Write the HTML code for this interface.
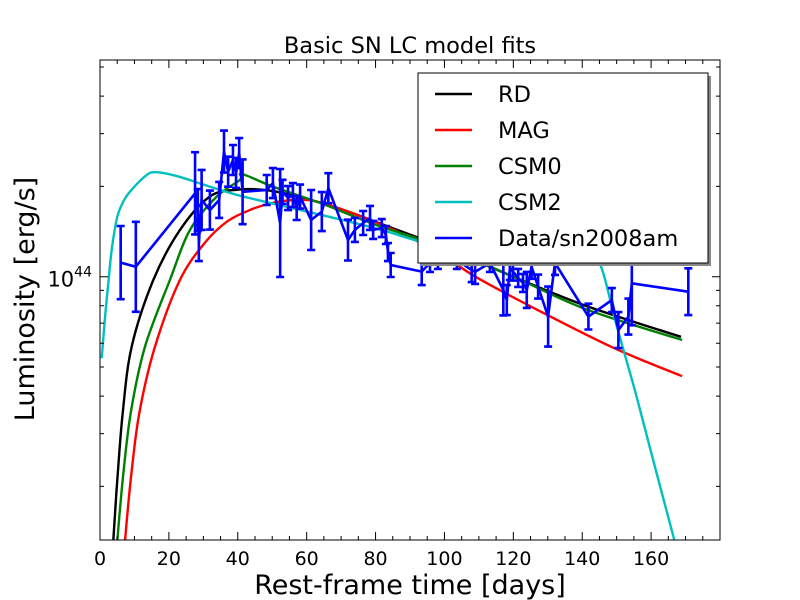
<!DOCTYPE html>
<html><head><meta charset="utf-8">
<style>
html,body{margin:0;padding:0;background:#fff;}
svg{display:block;font-family:"DejaVu Sans","Liberation Sans",sans-serif;}
</style></head>
<body>
<svg id="chart" width="800" height="600" viewBox="0 0 800 600" xmlns="http://www.w3.org/2000/svg">
<rect width="800" height="600" fill="#fff"/>
<text x="410" y="53" font-size="22.5" text-anchor="middle">Basic SN LC model fits</text>
<text x="410" y="594" font-size="27" text-anchor="middle">Rest-frame time [days]</text>
<text transform="translate(34,299) rotate(-90)" font-size="27" text-anchor="middle">Luminosity [erg/s]</text>
<defs><clipPath id="plotclip"><rect x="100" y="60" width="620" height="480"/></clipPath></defs>
<g id="curves" clip-path="url(#plotclip)"></g>
<g id="axes"></g>
<g id="legend">
<rect x="421" y="76" width="290" height="190" fill="#888"/>
<rect x="418" y="73" width="290" height="190" fill="#fff" stroke="#000" stroke-width="1"/>
</g>
</svg>
<script>
// ---- data ----
const xTicks=[0,20,40,60,80,100,120,140,160];
const rdT=[3.86,5.02,6.59,9.2,15.48,23.2,31.9,40,47,55,70,85,100,120,141,168.7];
const rdL=[0.132,0.21,0.351,0.585,0.975,1.43,1.85,1.95,1.95,1.88,1.68,1.45,1.25,1.0,0.80,0.63];
const magT=[7.26,8.91,11.41,15.97,23.2,30.5,37,43.6,50,56,62,70,80,90,100,109,125.6,149,169];
const magL=[0.132,0.21,0.351,0.585,0.975,1.3,1.53,1.67,1.76,1.8,1.79,1.68,1.52,1.35,1.17,1.0,0.79,0.58,0.466];
const csm0T=[5.02,6.59,8.91,13.07,20.3,26.1,33.9,40.6,41.2,50,64,80,100,120,141,169];
const csm0L=[0.132,0.21,0.351,0.585,0.975,1.43,1.85,2.1,2.2,2.0,1.76,1.49,1.25,1.0,0.78,0.615];
const csm2T=[0.5,1.45,2.4,3.4,5,7,9.2,13.5,16.2,22,30,40,60,80,100,120,130,140,145,150,155,160,166.7];
const csm2L=[0.535,0.73,0.95,1.23,1.58,1.8,1.95,2.18,2.23,2.17,2.03,1.87,1.65,1.45,1.25,1.2,1.17,1.14,1.11,0.685,0.43,0.26,0.133];
const dataT=[6.0,10.4,27.6,28.4,28.7,29.5,31.9,34.6,36.0,37.2,38.6,39.5,40.4,41.4,48.4,50.2,52.3,53.0,54.6,56.0,57.1,58.1,61.3,64.4,66.3,72.0,74.0,76.4,78.4,79.3,81.8,83.0,83.6,84.4,93.4,95.8,98.1,103.6,107.9,108.9,113.2,117.1,118.1,119.0,119.9,121.4,122.8,123.9,125.3,127.2,130.1,132.1,141.8,148.6,150.5,153.4,154.4,170.8];
const dataLogL=[44.047,44.033,44.278,44.222,44.112,44.256,44.222,44.256,44.417,44.35,44.389,44.346,44.412,44.283,44.289,44.312,44.179,44.283,44.262,44.272,44.229,44.267,44.189,44.217,44.295,44.122,44.156,44.179,44.196,44.156,44.162,44.139,44.082,44.039,44.017,44.046,44.056,44.056,44.022,44.016,44.046,43.956,43.922,44.029,44.017,43.996,43.979,43.956,44.033,43.967,43.867,44.046,43.867,43.922,43.822,43.867,43.978,43.95];
const dataErr=[0.122,0.15,0.137,0.07,0.06,0.1,0.065,0.06,0.07,0.05,0.05,0.05,0.05,0.108,0.05,0.05,0.18,0.04,0.04,0.04,0.04,0.04,0.1,0.065,0.05,0.068,0.04,0.04,0.04,0.03,0.03,0.03,0.03,0.04,0.045,0.03,0.03,0.03,0.04,0.04,0.03,0.085,0.05,0.04,0.03,0.03,0.03,0.06,0.04,0.04,0.1,0.04,0.043,0.04,0.06,0.06,0.14,0.078];
const legendLabels=["RD","MAG","CSM0","CSM2","Data/sn2008am"];
const legendColors=["#000","#f00","#008000","#00bfbf","#00f"];
// ---- axes ----
const X0=100,X1=720,Y0=60,Y1=540,XMIN=0,XMAX=180;
const YREF=276.7, PXDEC=300;
function xs(t){return X0+(t-XMIN)/(XMAX-XMIN)*(X1-X0);}
function ysLog(lg){return YREF-(lg-44)*PXDEC;}
function ys(L){return ysLog(44+Math.log10(L));}
const NS="http://www.w3.org/2000/svg";
function mk(tag,attrs,parent){const e=document.createElementNS(NS,tag);for(const k in attrs)e.setAttribute(k,attrs[k]);parent.appendChild(e);return e;}
const curves=document.getElementById('curves');
const axes=document.getElementById('axes');
function smoothPath(P){
  let d='M'+P[0][0].toFixed(1)+' '+P[0][1].toFixed(1);
  for(let i=0;i<P.length-1;i++){
    const p0=P[i-1]||P[i],p1=P[i],p2=P[i+1],p3=P[i+2]||P[i+1];
    const c1=[p1[0]+(p2[0]-p0[0])/6,p1[1]+(p2[1]-p0[1])/6];
    const c2=[p2[0]-(p3[0]-p1[0])/6,p2[1]-(p3[1]-p1[1])/6];
    d+=`C${c1[0].toFixed(1)} ${c1[1].toFixed(1)} ${c2[0].toFixed(1)} ${c2[1].toFixed(1)} ${p2[0].toFixed(1)} ${p2[1].toFixed(1)}`;
  }
  return d;
}
function drawLine(T,L,color,name){
  const P=T.map((t,i)=>[xs(t),ys(L[i])]);
  const p=mk('path',{d:smoothPath(P),fill:'none',stroke:color,'stroke-width':2.4,'stroke-linejoin':'round'},curves);
  
  
}
drawLine(rdT,rdL,legendColors[0],'rd-curve');
drawLine(magT,magL,legendColors[1],'mag-curve');
drawLine(csm0T,csm0L,legendColors[2],'csm0-curve');
drawLine(csm2T,csm2L,legendColors[3],'csm2-curve');
const dd=dataT.map((t,i)=>(i?'L':'M')+xs(t).toFixed(1)+' '+ysLog(dataLogL[i]).toFixed(1)).join(' ');
const dp=mk('path',{d:dd,fill:'none',stroke:'#00f','stroke-width':2.6,'stroke-linejoin':'miter'},curves);


dataT.forEach((t,i)=>{
  const x=xs(t),ya=ysLog(dataLogL[i]+dataErr[i]),yb=ysLog(dataLogL[i]-dataErr[i]);
  const g=mk('path',{d:`M${x} ${ya}L${x} ${yb}M${x-4} ${ya}L${x+4} ${ya}M${x-4} ${yb}L${x+4} ${yb}`,stroke:'#00f','stroke-width':2.6,fill:'none'},curves);
  
  
});
const fr=mk('rect',{x:X0,y:Y0,width:X1-X0,height:Y1-Y0,fill:'none',stroke:'#000','stroke-width':1},axes);


let tk='';
for(let t=0;t<=XMAX;t+=5){const x=xs(t);const len=(t%20===0)?8:4;tk+=`M${x} ${Y1}v${-len}M${x} ${Y0}v${len}`;}
for(let dec=43;dec<=44;dec++){for(let m=1;m<=9;m++){const y=ysLog(dec+Math.log10(m));if(y<Y0||y>Y1)continue;const len=(m===1)?8:4;tk+=`M${X0} ${y}h${len}M${X1} ${y}h${-len}`;}}
const tp=mk('path',{d:tk,stroke:'#000','stroke-width':1,fill:'none'},axes);


xTicks.forEach(t=>{
  const e=mk('text',{x:xs(t),y:Y1+25,'font-size':19,'text-anchor':'middle'},axes);
  e.textContent=String(t);
  
  
});
const yl=mk('text',{x:92,y:ysLog(44)+10,'font-size':21,'text-anchor':'end'},axes);
yl.innerHTML='10<tspan dy="-10" font-size="14">44</tspan>';


const lg=document.getElementById('legend');
legendLabels.forEach((lab,i)=>{
  const y=94+i*36;
  const l=mk('line',{x1:435,x2:472,y1:y,y2:y,stroke:legendColors[i],'stroke-width':2.6},lg);
  
  
  const tx=mk('text',{x:498,y:y+8,'font-size':22.5},lg);
  tx.textContent=lab;
  
  
});
</script>
</body></html>
